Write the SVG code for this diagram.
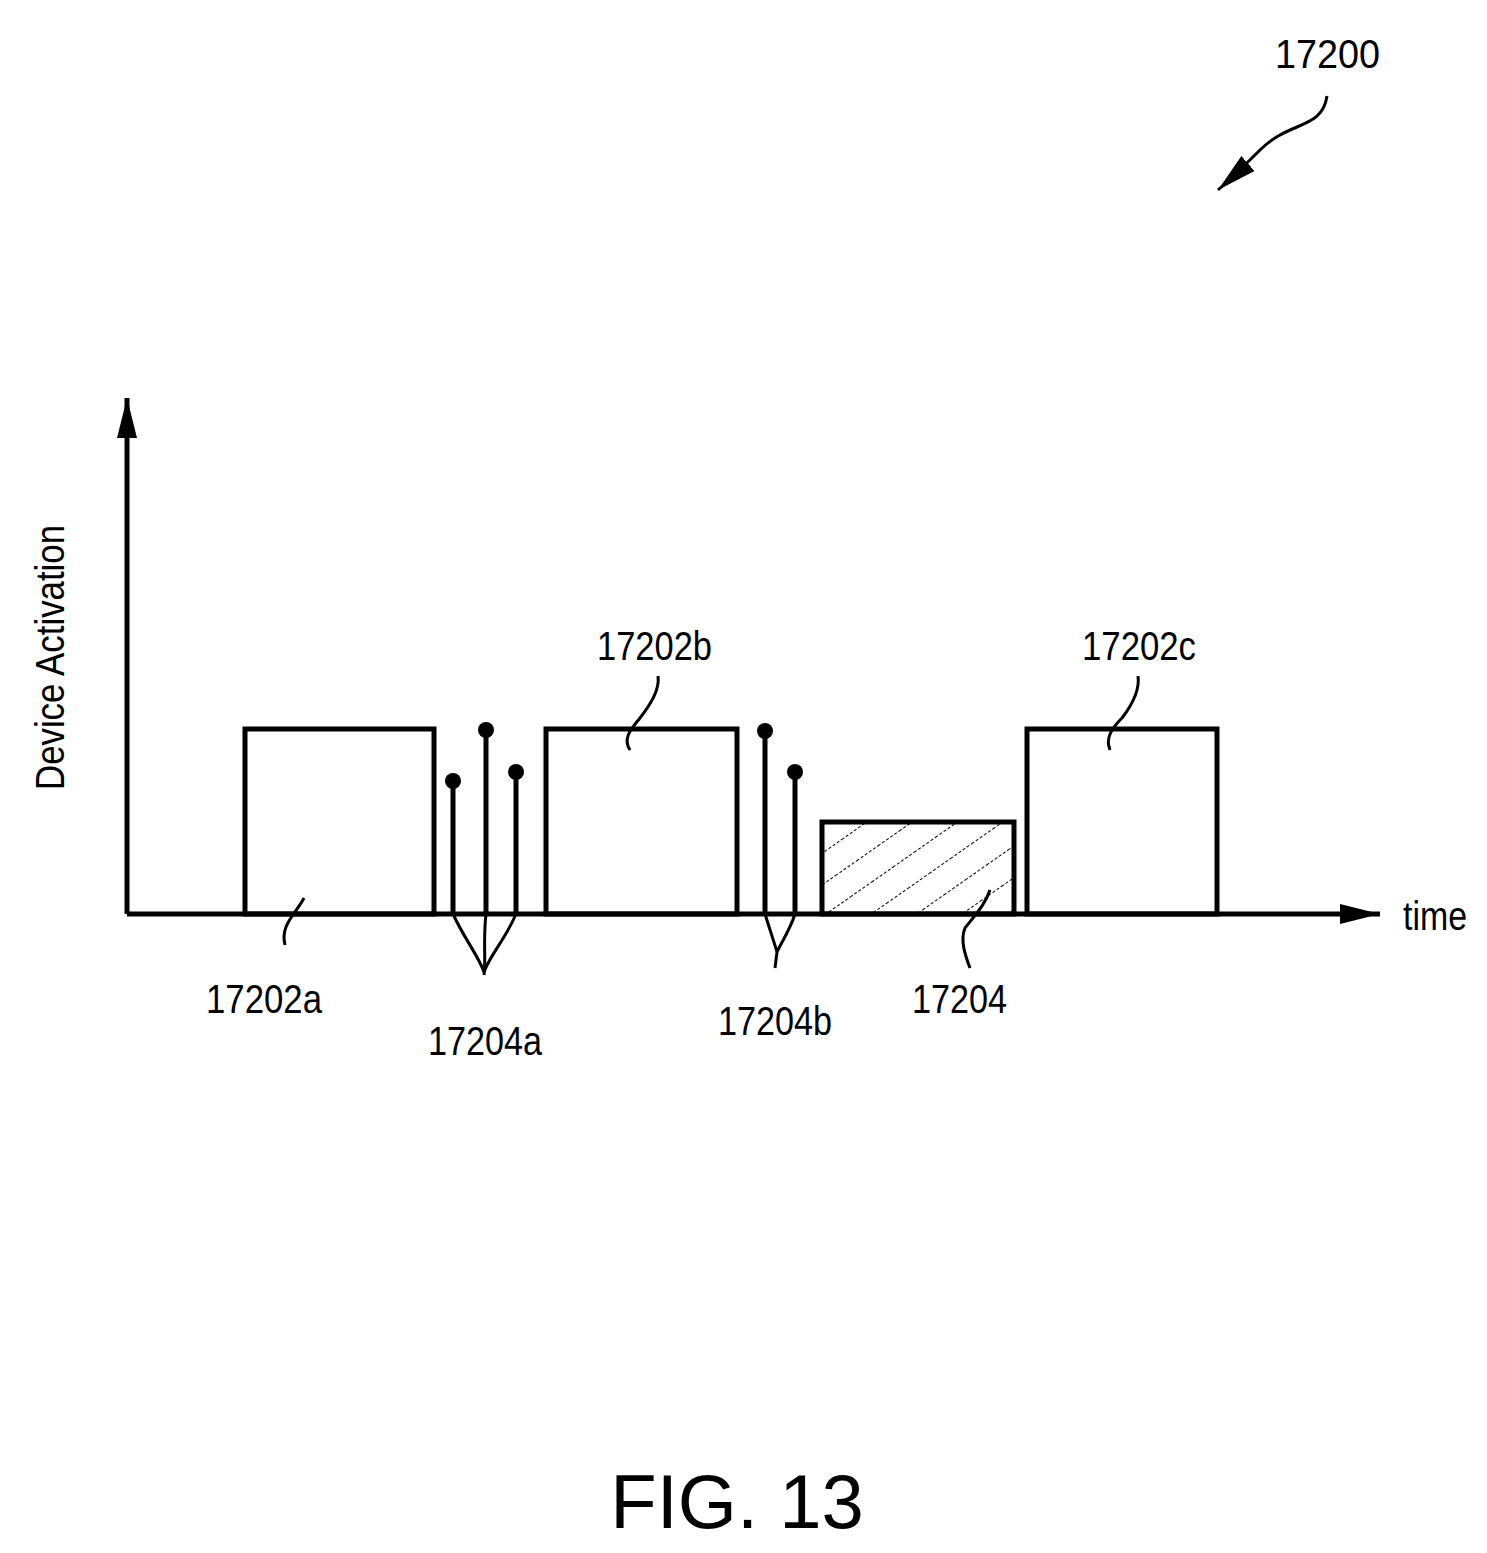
<svg xmlns="http://www.w3.org/2000/svg" width="1487" height="1553" viewBox="0 0 1487 1553">
<style>
.ln{fill:none;stroke:#000;stroke-width:5}
.ld{fill:none;stroke:#000;stroke-width:3}
.t{font-family:"Liberation Sans",sans-serif;font-size:40px;fill:#000}
</style>
<defs>
<marker id="big" viewBox="0 0 40 20" refX="40" refY="10" markerWidth="40" markerHeight="20" orient="auto" markerUnits="userSpaceOnUse"><path d="M0,0 L40,10 L0,20 Z" fill="#000"/></marker>
<pattern id="hatch" patternUnits="userSpaceOnUse" width="26" height="26" patternTransform="rotate(-35)"><line x1="0" y1="0" x2="26" y2="0" stroke="#000" stroke-width="2" stroke-dasharray="3 2"/></pattern>
</defs>
<g id="connectors">
<path class="ln" d="M127,914 V398" marker-end="url(#big)"/>
<path class="ln" d="M127,914 H1380" marker-end="url(#big)"/>
<path class="ld" d="M1327,96 C1322,130 1290,120 1260,150 C1245,165 1235,175 1218,190" marker-end="url(#big)"/>
<path class="ld" d="M304,898 C295,915 280,925 285,945"/>
<path class="ld" d="M630,750 C622,738 632,728 640,718 C650,705 660,690 658,676"/>
<path class="ld" d="M1110,750 C1105,738 1112,728 1122,718 C1132,705 1140,690 1138,676"/>
<path class="ld" d="M990,890 C985,905 975,915 965,928 C960,940 965,955 970,968"/>
<path class="ld" d="M453,914 C465,940 478,955 484,972 M486,914 C483,940 486,960 484,975 M516,914 C505,940 490,955 484,972"/>
<path class="ld" d="M765,914 C770,930 775,945 777,952 M795,914 C790,930 780,945 777,952 L775,968"/>
</g>
<g id="box17202a"><rect class="ln" x="245" y="729" width="189" height="185"/></g>
<g id="box17202b"><rect class="ln" x="546" y="729" width="191" height="185"/></g>
<g id="box17202c"><rect class="ln" x="1027" y="729" width="190" height="185"/></g>
<g id="box17204"><rect x="822" y="822" width="192" height="92" fill="url(#hatch)" stroke="#000" stroke-width="5"/></g>
<g id="pulses">
<path class="ln" d="M453,914 V781 M486,914 V730 M516,914 V772 M765,914 V731 M795,914 V772"/>
<circle cx="453" cy="781" r="8"/><circle cx="486" cy="730" r="8"/><circle cx="516" cy="772" r="8"/>
<circle cx="765" cy="731" r="8"/><circle cx="795" cy="772" r="8"/>
</g>
<g id="labels">
<text class="t" x="1275" y="68" textLength="105" lengthAdjust="spacingAndGlyphs">17200</text>
<text class="t" transform="translate(64,790) rotate(-90)" textLength="265" lengthAdjust="spacingAndGlyphs">Device Activation</text>
<text class="t" x="1403" y="930" textLength="64" lengthAdjust="spacingAndGlyphs">time</text>
<text class="t" x="206" y="1013" textLength="116" lengthAdjust="spacingAndGlyphs">17202a</text>
<text class="t" x="428" y="1055" textLength="114" lengthAdjust="spacingAndGlyphs">17204a</text>
<text class="t" x="718" y="1035" textLength="114" lengthAdjust="spacingAndGlyphs">17204b</text>
<text class="t" x="912" y="1013" textLength="95" lengthAdjust="spacingAndGlyphs">17204</text>
<text class="t" x="597" y="660" textLength="115" lengthAdjust="spacingAndGlyphs">17202b</text>
<text class="t" x="1082" y="660" textLength="114" lengthAdjust="spacingAndGlyphs">17202c</text>
<text x="737" y="1528" text-anchor="middle" font-family="Liberation Sans,sans-serif" font-size="76">FIG. 13</text>
</g>
</svg>
